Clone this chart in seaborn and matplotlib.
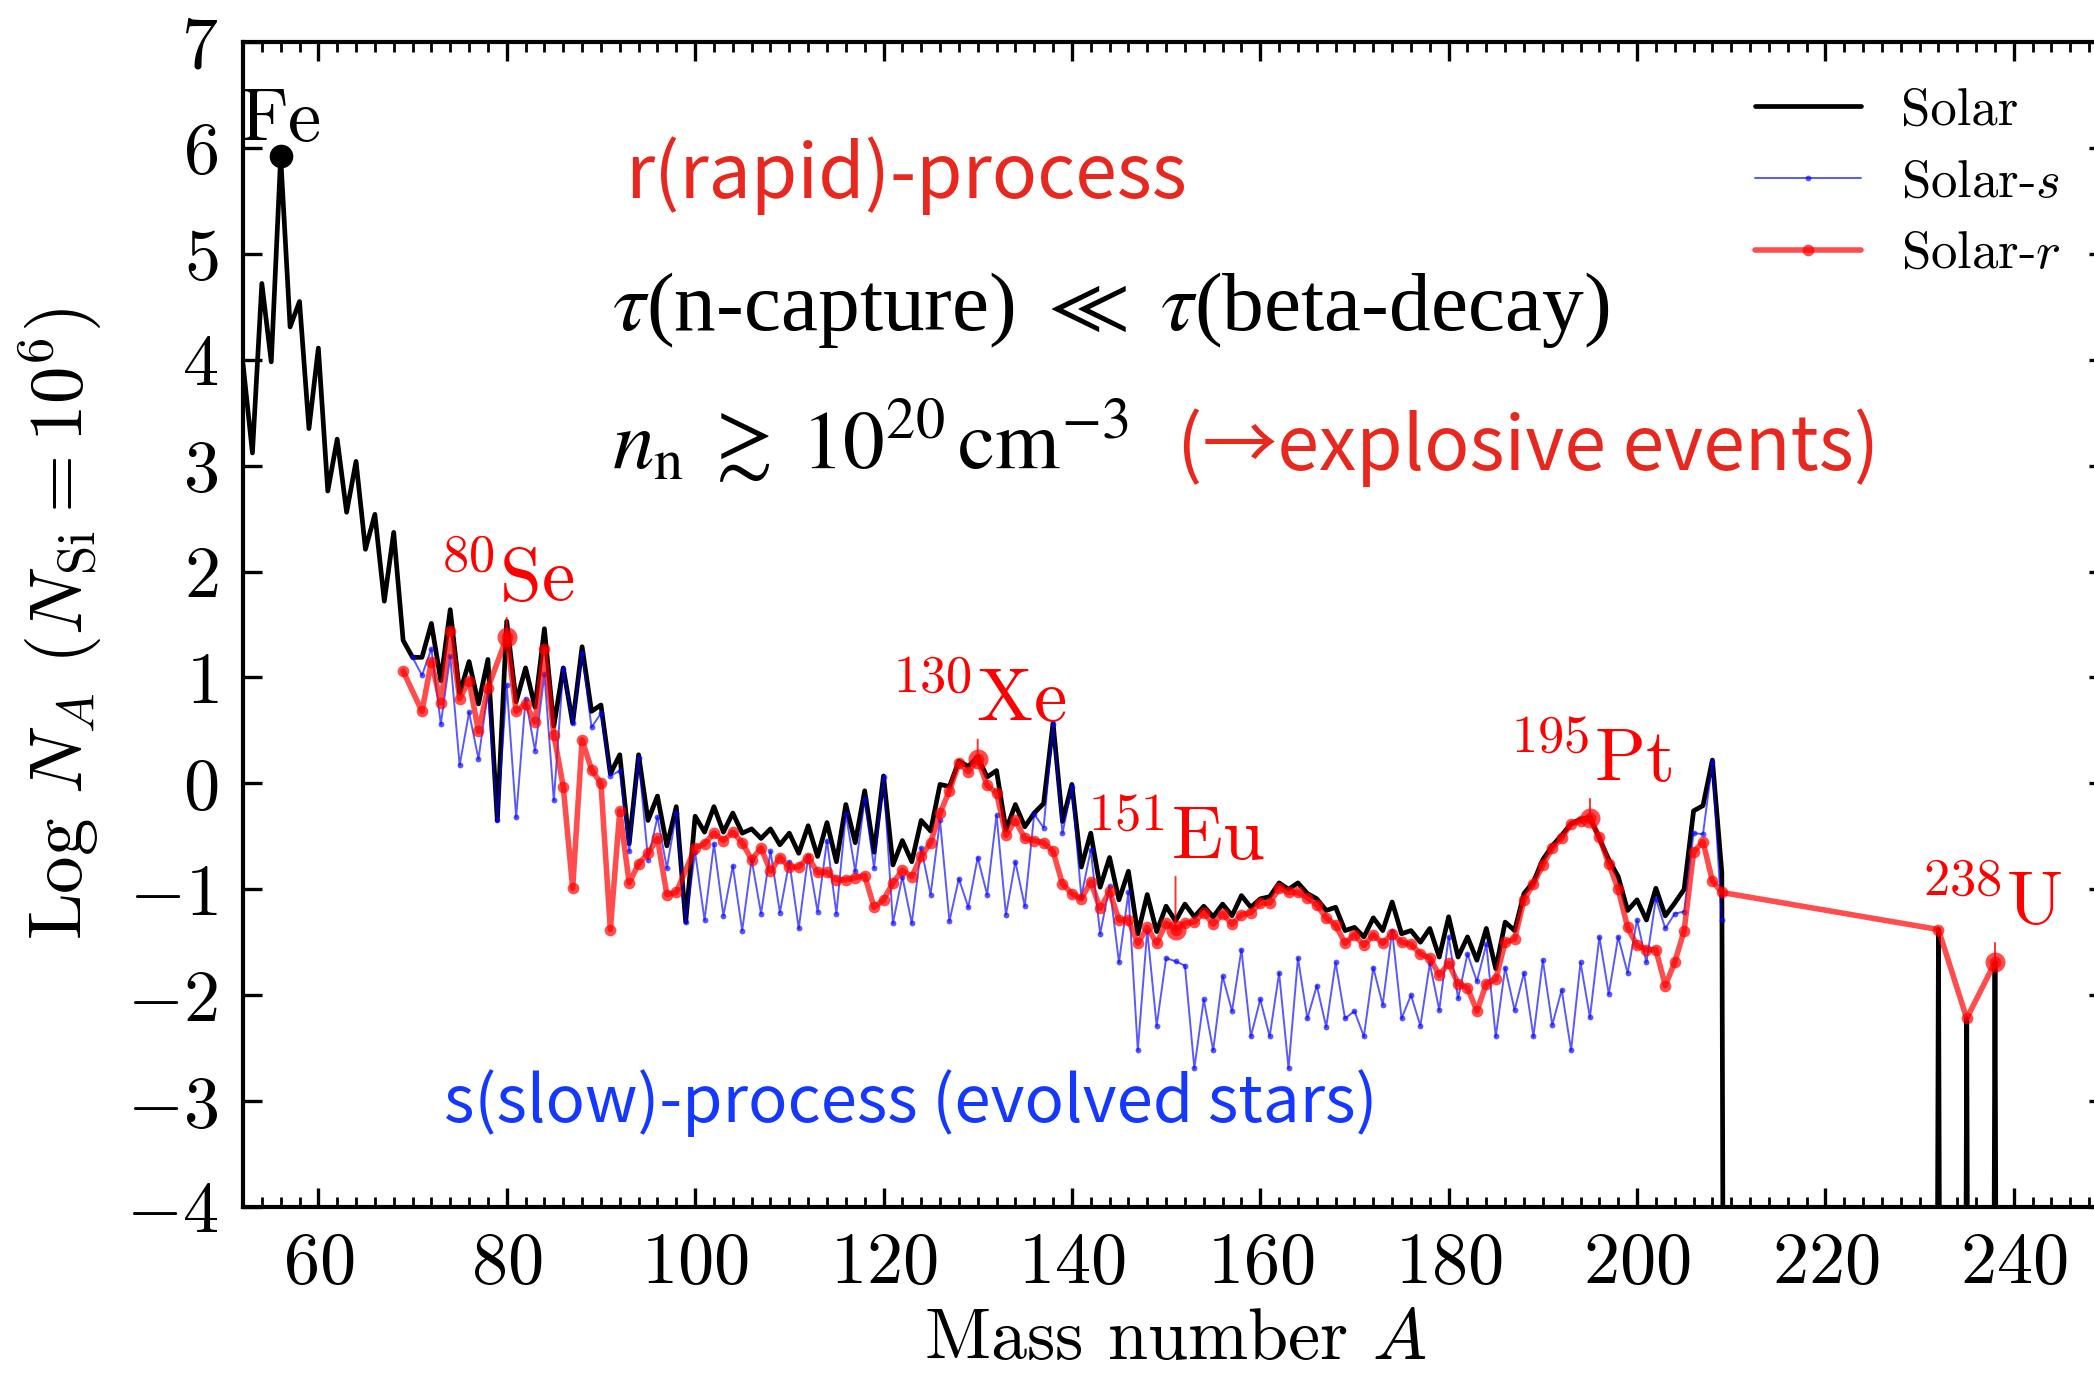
import numpy as np
import pandas as pd
import seaborn as sns
import matplotlib
matplotlib.use("Agg")
import matplotlib.pyplot as plt
from matplotlib.ticker import MultipleLocator

# ---------------------------------------------------------------------------
# Solar-system isotopic abundances, log N_A with N_Si = 1e6
# ---------------------------------------------------------------------------
solar_A = list(range(52, 210))
solar_logN = [
    3.96, 3.12, 4.72, 3.98, 5.92, 4.31, 4.55, 3.35,                      # 52-59
    4.11, 2.76, 3.25, 2.56, 3.04, 2.21, 2.54, 1.72, 2.37, 1.35,          # 60-69
    1.19, 1.19, 1.51, 0.97, 1.64, 0.85, 1.15, 0.75, 1.17, -0.35,         # 70-79
    1.53, 0.77, 1.09, 0.72, 1.46, 0.54, 1.09, 0.57, 1.29, 0.68,          # 80-89
    0.74, 0.09, 0.27, -0.57, 0.27, -0.35, -0.12, -0.59, -0.22, -1.31,    # 90-99
    -0.31, -0.46, -0.22, -0.46, -0.28, -0.47, -0.43, -0.52, -0.43, -0.58,  # 100-109
    -0.47, -0.66, -0.40, -0.69, -0.37, -0.74, -0.20, -0.56, -0.07, -0.65,  # 110-119
    0.07, -0.77, -0.54, -0.74, -0.35, -0.45, -0.01, -0.03, 0.21, 0.16,     # 120-129
    0.25, 0.06, 0.12, -0.44, -0.20, -0.41, -0.28, -0.19, 0.57, -0.36,      # 130-139
    -0.01, -0.79, -0.47, -0.98, -0.70, -1.10, -0.83, -1.42, -1.05, -1.40,  # 140-149
    -1.16, -1.30, -1.14, -1.26, -1.16, -1.26, -1.14, -1.25, -1.06, -1.17,  # 150-159
    -1.09, -1.07, -0.94, -1.00, -0.94, -1.04, -1.09, -1.20, -1.17, -1.39,  # 160-169
    -1.36, -1.45, -1.27, -1.39, -1.12, -1.42, -1.39, -1.50, -1.37, -1.64,  # 170-179
    -1.26, -1.64, -1.45, -1.67, -1.37, -1.75, -1.31, -1.39, -1.04, -0.93,  # 180-189
    -0.72, -0.59, -0.49, -0.38, -0.34, -0.32, -0.52, -0.72, -0.88, -1.20,  # 190-199
    -1.10, -1.29, -0.99, -1.25, -1.13, -1.00, -0.26, -0.21, 0.22, -0.84,   # 200-209
]
# long-lived actinides
actinide_A = [232, 235, 238]
actinide_logN = [-1.38, -2.22, -1.69]
# mass numbers with no surviving nuclide (abundance -> 0)
empty_A = [210, 231, 233, 234, 236, 237, 239]
empty_logN = -30.0

# s-process contribution
s_A = list(range(70, 210))
s_logN = [
    1.19, 1.02, 1.27, 0.56, 1.20, 0.17, 0.67, 0.23, 0.87, -0.35,         # 70-79
    0.93, -0.32, 0.80, 0.31, 1.03, -0.16, 1.08, 0.57, 1.23, 0.53,        # 80-89
    0.66, 0.07, 0.12, -0.64, 0.24, -0.72, -0.32, -0.80, -0.28, -1.31,    # 90-99
    -0.65, -1.29, -0.57, -1.25, -0.78, -1.39, -0.72, -1.23, -0.64, -1.22,  # 100-109
    -0.74, -1.37, -0.69, -1.21, -0.54, -1.23, -0.29, -0.83, -0.15, -0.80,  # 110-119
    0.06, -1.32, -0.88, -1.32, -0.61, -1.05, -0.35, -1.30, -0.90, -1.17,   # 120-129
    -0.70, -1.05, -0.30, -1.24, -0.74, -1.16, -0.29, -0.42, 0.56, -0.47,   # 130-139
    -0.03, -1.07, -0.63, -1.42, -0.97, -1.69, -1.03, -2.52, -1.39, -2.29,  # 140-149
    -1.65, -1.68, -1.72, -2.69, -2.04, -2.52, -1.82, -2.15, -1.57, -2.39,  # 150-159
    -2.04, -2.39, -1.79, -2.69, -1.65, -2.22, -1.91, -2.30, -1.69, -2.22,  # 160-169
    -2.15, -2.39, -1.74, -2.09, -1.39, -2.22, -2.00, -2.29, -1.70, -2.14,  # 170-179
    -1.45, -2.03, -1.61, -1.87, -1.52, -2.39, -1.74, -2.14, -1.79, -2.39,  # 180-189
    -1.67, -2.28, -1.95, -2.52, -1.69, -2.21, -1.45, -1.99, -1.45, -1.79,  # 190-199
    -1.29, -1.69, -1.09, -1.37, -1.23, -1.21, -0.47, -0.48, 0.20, -1.29,   # 200-209
]

# r-process residuals
r_A = ([69] + list(range(71, 79)) + list(range(80, 99)) + list(range(100, 210))
       + [232, 235, 238])
r_logN = [
    1.06,                                                                # 69
    0.68, 1.15, 0.76, 1.44, 0.80, 0.97, 0.49, 0.90,                      # 71-78
    1.38, 0.68, 0.75, 0.58, 1.27, 0.46, -0.03, -0.99, 0.41, 0.13,        # 80-89
    0.00, -1.38, -0.26, -0.94, -0.76, -0.66, -0.52, -1.05, -1.03,        # 90-98
    -0.61, -0.57, -0.47, -0.54, -0.46, -0.56, -0.72, -0.61, -0.83, -0.70,  # 100-109
    -0.79, -0.79, -0.70, -0.84, -0.84, -0.91, -0.91, -0.89, -0.87, -1.17,  # 110-119
    -1.10, -0.94, -0.82, -0.88, -0.69, -0.56, -0.28, -0.07, 0.19, 0.11,    # 120-129
    0.23, -0.02, -0.09, -0.49, -0.35, -0.52, -0.54, -0.56, -0.64, -0.95,   # 130-139
    -1.04, -1.09, -0.93, -1.18, -1.02, -1.29, -1.29, -1.51, -1.36, -1.51,  # 140-149
    -1.32, -1.38, -1.32, -1.31, -1.22, -1.33, -1.23, -1.33, -1.24, -1.22,  # 150-159
    -1.13, -1.13, -0.99, -1.03, -1.03, -1.08, -1.15, -1.27, -1.34, -1.51,  # 160-169
    -1.43, -1.53, -1.43, -1.51, -1.42, -1.50, -1.52, -1.61, -1.65, -1.81,  # 170-179
    -1.70, -1.89, -1.93, -2.15, -1.89, -1.85, -1.50, -1.47, -1.10, -0.95,  # 180-189
    -0.77, -0.61, -0.52, -0.38, -0.36, -0.33, -0.51, -0.76, -1.00, -1.36,  # 190-199
    -1.53, -1.57, -1.57, -1.91, -1.69, -1.39, -0.65, -0.55, -0.92, -1.03,  # 200-209
    -1.38, -2.22, -1.69,                                                 # 232, 235, 238
]

# highlighted r-process isotopes: (label, A, label offset in points, stub length in points)
r_marks = [
    (r"$^{80}$Se", 80, (0, 13), 7),
    (r"$^{130}$Xe", 130, (0, 13.5), 7),
    (r"$^{151}$Eu", 151, (0, 25), 19),
    (r"$^{195}$Pt", 195, (0, 13), 7),
    (r"$^{238}$U", 238, (-1.2, 13.5), 7),
]

# ---------------------------------------------------------------------------
# style
# ---------------------------------------------------------------------------
sns.set_theme(style="ticks")
plt.rcParams.update({
    "font.family": "serif",
    "font.serif": ["cmr10"],
    "mathtext.fontset": "cm",
    "axes.formatter.use_mathtext": True,
    "axes.unicode_minus": True,
    "axes.linewidth": 1.5,
    "axes.edgecolor": "black",
    "axes.labelcolor": "black",
    "text.color": "black",
    "xtick.color": "black",
    "ytick.color": "black",
})

RED_TXT = "#e8281e"
BLUE_TXT = "#1438ff"

W, H, DPI = 2094, 1381, 200
fig = plt.figure(figsize=(W / DPI, H / DPI), dpi=DPI)
ax = fig.add_axes([243 / W, 1 - 1207 / H, 1865 / W, 1165 / H])

# solar curve including the empty mass numbers around the actinides
solar = pd.DataFrame({"A": solar_A + actinide_A + empty_A,
                      "logN": solar_logN + actinide_logN + [empty_logN] * len(empty_A)})
solar = solar.sort_values("A")
s_df = pd.DataFrame({"A": s_A, "logN": s_logN})
r_df = pd.DataFrame({"A": r_A, "logN": r_logN})

sns.lineplot(data=solar, x="A", y="logN", color="black", lw=1.7,
             estimator=None, sort=False, label="Solar", ax=ax, zorder=2)
sns.lineplot(data=s_df, x="A", y="logN", color="blue", lw=0.7, alpha=0.65,
             marker="o", markersize=2.1, markeredgewidth=0,
             estimator=None, sort=False, label="Solar-$s$", ax=ax, zorder=3)
sns.lineplot(data=r_df, x="A", y="logN", color="red", lw=2.0, alpha=0.7,
             marker="o", markersize=4.2, markeredgewidth=0,
             estimator=None, sort=False, label="Solar-$r$", ax=ax, zorder=4)

# iron peak
fe_A = 56
fe_val = solar_logN[solar_A.index(fe_A)]
ax.plot([fe_A], [fe_val], "o", color="black", ms=7.5, zorder=5)
ax.annotate("Fe", xy=(fe_A, fe_val), xytext=(0, 5.7), textcoords="offset points",
            ha="center", va="baseline", fontsize=27, color="black")

# highlighted r-process isotopes
r_lookup = dict(zip(r_A, r_logN))
for label, A, off, stub in r_marks:
    v = r_lookup[A]
    ax.plot([A], [v], "o", color="red", alpha=0.7, ms=7.2, mew=0, zorder=5)
    ax.annotate("", xy=(A, v), xytext=(0, stub), textcoords="offset points",
                arrowprops=dict(arrowstyle="-", color="red", lw=0.7, alpha=0.8,
                                shrinkA=0, shrinkB=0))
    ax.annotate(label, xy=(A, v), xytext=off, textcoords="offset points",
                ha="center", va="baseline", fontsize=27, color="red")

# process descriptions
cjk = ["Noto Sans CJK JP", "DejaVu Sans"]
ax.text(0.205, 0.866, "r(rapid)-process", transform=ax.transAxes,
        family=cjk, fontsize=27, color=RED_TXT, va="baseline", ha="left")
ax.text(0.198, 0.753, r"$\tau$(n-capture) $\ll$ $\tau$(beta-decay)",
        transform=ax.transAxes, family=["Liberation Serif"], math_fontfamily="stix",
        fontsize=30, color="black", va="baseline", ha="left")
ax.text(0.198, 0.633, r"$n_{\rm n}\;\gtrsim\;10^{20}\,{\rm cm}^{-3}$",
        transform=ax.transAxes, family=["Liberation Serif"], math_fontfamily="stix",
        fontsize=30, color="black", va="baseline", ha="left")
ax.text(0.501, 0.633, "(→explosive events)", transform=ax.transAxes,
        family=cjk, fontsize=27, color=RED_TXT, va="baseline", ha="left")
ax.text(0.108, 0.073, "s(slow)-process (evolved stars)", transform=ax.transAxes,
        family=cjk, fontsize=23.5, color=BLUE_TXT, va="baseline", ha="left")

# axes
ax.set_xlim(52, 250)
ax.set_ylim(-4, 7)
ax.xaxis.set_major_locator(MultipleLocator(20))
ax.xaxis.set_minor_locator(MultipleLocator(2))
ax.yaxis.set_major_locator(MultipleLocator(1))
ax.tick_params(which="both", direction="in", top=True, right=True,
               labelsize=26, pad=9)
ax.tick_params(which="major", length=7, width=1.2)
ax.tick_params(which="minor", length=3.5, width=1.0)
ax.set_xlabel("Mass number $A$", fontsize=26, labelpad=4)
ax.set_ylabel(r"Log $N_A$ ($N_{\rm Si} = 10^6$)", fontsize=27, labelpad=8)

leg = ax.legend(loc="upper right", bbox_to_anchor=(0.986, 0.979), frameon=False,
                fontsize=19, handlelength=2.0, handletextpad=0.76,
                labelspacing=0.47, borderaxespad=0)
leg.legend_handles[1].set_alpha(0.65)
leg.legend_handles[2].set_alpha(0.7)

fig.savefig("out.png", dpi=DPI)
